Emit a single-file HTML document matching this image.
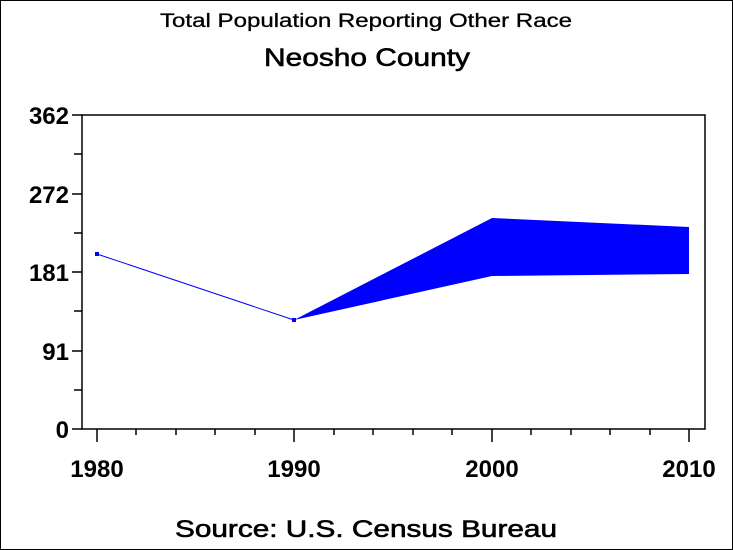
<!DOCTYPE html>
<html><head><style>
html,body{margin:0;padding:0;background:#fff}
svg{display:block}
text{font-family:"Liberation Sans",Arial,sans-serif;fill:#000}
</style></head><body>
<svg width="733" height="550" viewBox="0 0 733 550" xmlns="http://www.w3.org/2000/svg">
<rect x="0.5" y="0.5" width="732" height="549" fill="#fff" stroke="#000"/>
<text x="160" y="27" font-size="19" textLength="412" lengthAdjust="spacingAndGlyphs" stroke="#000" stroke-width="0.3">Total Population Reporting Other Race</text>
<text x="264" y="66" font-size="25" textLength="206" lengthAdjust="spacingAndGlyphs" stroke="#000" stroke-width="0.6">Neosho County</text>
<rect x="82" y="115" width="623" height="314" fill="none" stroke="#000" stroke-width="1.5"/>
<g stroke="#000" stroke-width="1.5">
<line x1="72" y1="115" x2="82" y2="115"/><line x1="72" y1="194" x2="82" y2="194"/><line x1="72" y1="272" x2="82" y2="272"/><line x1="72" y1="351" x2="82" y2="351"/><line x1="72" y1="429" x2="82" y2="429"/>
<line x1="74" y1="154" x2="82" y2="154"/><line x1="74" y1="233" x2="82" y2="233"/><line x1="74" y1="311" x2="82" y2="311"/><line x1="74" y1="390" x2="82" y2="390"/>
<line x1="97" y1="429" x2="97" y2="442"/><line x1="294" y1="429" x2="294" y2="442"/><line x1="492" y1="429" x2="492" y2="442"/><line x1="689" y1="429" x2="689" y2="442"/>
<line x1="136" y1="429" x2="136" y2="435"/><line x1="176" y1="429" x2="176" y2="435"/><line x1="215" y1="429" x2="215" y2="435"/><line x1="255" y1="429" x2="255" y2="435"/>
<line x1="334" y1="429" x2="334" y2="435"/><line x1="373" y1="429" x2="373" y2="435"/><line x1="413" y1="429" x2="413" y2="435"/><line x1="452" y1="429" x2="452" y2="435"/>
<line x1="531" y1="429" x2="531" y2="435"/><line x1="571" y1="429" x2="571" y2="435"/><line x1="610" y1="429" x2="610" y2="435"/><line x1="650" y1="429" x2="650" y2="435"/>
</g>
<g font-size="24" font-weight="bold" text-anchor="end">
<text x="69" y="124">362</text><text x="69" y="203">272</text><text x="69" y="281">181</text><text x="69" y="360">91</text><text x="69" y="438">0</text>
</g>
<g font-size="24" font-weight="bold" text-anchor="middle">
<text x="97" y="477">1980</text><text x="294" y="477">1990</text><text x="492" y="477">2000</text><text x="689" y="477">2010</text>
</g>
<polyline points="97,254 294,320" fill="none" stroke="#00f" stroke-width="1"/>
<polygon points="294,320 492,218 689,227 689,274 492,276" fill="#00f"/>
<rect x="95" y="252" width="4" height="4" fill="#00f"/>
<rect x="292" y="318" width="4" height="4" fill="#00f"/>
<text x="175" y="537" font-size="24" textLength="382" lengthAdjust="spacingAndGlyphs" stroke="#000" stroke-width="0.6">Source: U.S. Census Bureau</text>
</svg>
</body></html>
